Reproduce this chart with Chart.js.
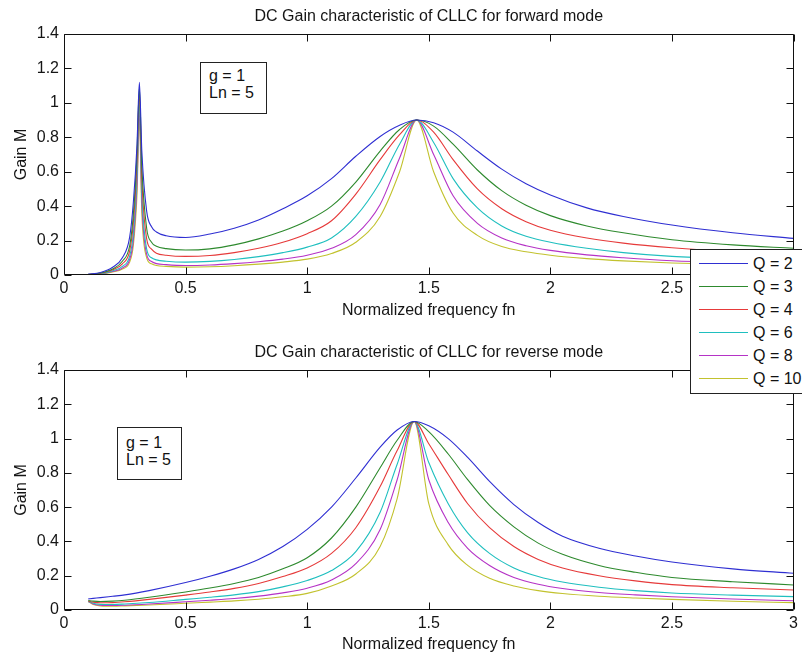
<!DOCTYPE html>
<html>
<head>
<meta charset="utf-8">
<script src="https://cdn.jsdelivr.net/npm/chart.js@4.4.1/dist/chart.umd.min.js"></script>
<style>
  html, body { margin: 0; padding: 0; background: #fff; overflow: hidden; width: 802px; height: 655px; }
  body { position: relative; font-family: "Liberation Sans", Arial, sans-serif; color: #111; }
  canvas { position: absolute; left: 0; }
  #fwdCanvas { top: 0; }
  #revCanvas { top: 325px; }
  .note { position: absolute; border: 1px solid #222; background: #fff; font-size: 16px; line-height: 17px;
          box-sizing: border-box; padding-left: 8px; z-index: 4; white-space: nowrap; }
  #noteFwd { left: 200px; top: 62px; width: 67px; height: 52px; padding-top: 4px; }
  #noteRev { left: 117px; top: 427px; width: 65px; height: 53px; padding-top: 6px; }
  #legend { position: absolute; left: 690px; top: 249px; width: 130px; height: 145px; border: 1px solid #222;
            background: #fff; box-sizing: border-box; padding-top: 2px; z-index: 5; }
  #legend .row { height: 23px; display: flex; align-items: center; font-size: 16px; white-space: nowrap; }
  #legend .sw { display: inline-block; width: 49px; height: 1px; margin-left: 8px; margin-right: 5px; }
</style>
</head>
<body>
<canvas id="fwdCanvas" width="802" height="325"></canvas>
<canvas id="revCanvas" width="802" height="330"></canvas>
<div class="note" id="noteFwd"></div>
<div class="note" id="noteRev"></div>
<div id="legend"></div>
<script>
// ---- series labels and colours ----
const qLabels = ['Q = 2', 'Q = 3', 'Q = 4', 'Q = 6', 'Q = 8', 'Q = 10'];
const seriesColors = ['#2f2fd2', '#2e8a2e', '#e63a3a', '#1fbfbf', '#b533c6', '#c2c22e'];

// ---- axis ticks ----
const xTicks = [0, 0.5, 1, 1.5, 2, 2.5, 3];
const xTickLabels = ['0', '0.5', '1', '1.5', '2', '2.5', '3'];
const yTicks = [0, 0.2, 0.4, 0.6, 0.8, 1, 1.2, 1.4];
const yTickLabels = ['0', '0.2', '0.4', '0.6', '0.8', '1', '1.2', '1.4'];

// ---- forward mode: normalized frequency and gain per Q ----
const fwdFreq = [0.10, 0.15, 0.20, 0.24, 0.27, 0.285, 0.30, 0.31, 0.32, 0.34,
                 0.36, 0.38, 0.42, 0.50, 0.60, 0.70, 0.80, 0.90, 1.00, 1.10,
                 1.20, 1.30, 1.38, 1.45, 1.52, 1.60, 1.70, 1.80, 1.90, 2.00,
                 2.15, 2.30, 2.50, 2.75, 3.00];
const fwdQ2  = [0.005, 0.015, 0.045, 0.10, 0.22, 0.42, 0.75, 1.12, 0.72, 0.37,
                0.28, 0.25, 0.228, 0.218, 0.238, 0.272, 0.32, 0.385, 0.46, 0.56,
                0.69, 0.805, 0.87, 0.90, 0.885, 0.83, 0.72, 0.615, 0.53, 0.465,
                0.39, 0.34, 0.29, 0.245, 0.213];
const fwdQ3  = [0.004, 0.012, 0.035, 0.08, 0.17, 0.35, 0.70, 1.09, 0.63, 0.27,
                0.19, 0.167, 0.153, 0.145, 0.152, 0.175, 0.21, 0.255, 0.315, 0.40,
                0.54, 0.72, 0.845, 0.90, 0.865, 0.76, 0.61, 0.49, 0.405, 0.345,
                0.285, 0.245, 0.205, 0.175, 0.155];
const fwdQ4  = [0.003, 0.010, 0.030, 0.065, 0.14, 0.30, 0.65, 1.06, 0.56, 0.21,
                0.15, 0.127, 0.115, 0.108, 0.113, 0.13, 0.155, 0.19, 0.24, 0.315,
                0.47, 0.67, 0.815, 0.90, 0.83, 0.67, 0.50, 0.385, 0.31, 0.26,
                0.215, 0.185, 0.158, 0.135, 0.12];
const fwdQ6  = [0.002, 0.008, 0.025, 0.05, 0.11, 0.24, 0.58, 1.00, 0.48, 0.15,
                0.10, 0.088, 0.08, 0.075, 0.079, 0.09, 0.107, 0.13, 0.162, 0.215,
                0.34, 0.54, 0.76, 0.90, 0.77, 0.56, 0.39, 0.285, 0.225, 0.19,
                0.155, 0.13, 0.108, 0.094, 0.085];
const fwdQ8  = [0.002, 0.007, 0.020, 0.04, 0.09, 0.20, 0.52, 0.95, 0.42, 0.12,
                0.078, 0.066, 0.06, 0.055, 0.058, 0.066, 0.077, 0.092, 0.115, 0.155,
                0.235, 0.41, 0.68, 0.90, 0.70, 0.46, 0.30, 0.215, 0.17, 0.143,
                0.117, 0.10, 0.083, 0.072, 0.065];
const fwdQ10 = [0.001, 0.006, 0.018, 0.035, 0.075, 0.17, 0.46, 0.90, 0.36, 0.10,
                0.065, 0.055, 0.05, 0.046, 0.048, 0.054, 0.063, 0.075, 0.092, 0.125,
                0.19, 0.34, 0.60, 0.90, 0.60, 0.36, 0.23, 0.165, 0.135, 0.115,
                0.095, 0.082, 0.07, 0.061, 0.055];

// ---- reverse mode: normalized frequency and gain per Q ----
const revFreq = [0.10, 0.12, 0.15, 0.20, 0.25, 0.35, 0.50, 0.60, 0.70, 0.80,
                 0.90, 1.00, 1.10, 1.20, 1.30, 1.37, 1.44, 1.50, 1.58, 1.66,
                 1.75, 1.85, 1.95, 2.05, 2.20, 2.35, 2.50, 2.75, 3.00];
const revQ2  = [0.065, 0.068, 0.072, 0.08, 0.088, 0.113, 0.16, 0.197, 0.24, 0.295,
                0.37, 0.47, 0.60, 0.77, 0.95, 1.05, 1.10, 1.075, 1.00, 0.89,
                0.75, 0.615, 0.51, 0.43, 0.36, 0.315, 0.28, 0.24, 0.214];
const revQ3  = [0.055, 0.052, 0.05, 0.052, 0.057, 0.074, 0.105, 0.128, 0.155, 0.19,
                0.24, 0.305, 0.42, 0.60, 0.83, 0.99, 1.10, 1.04, 0.91, 0.76,
                0.61, 0.485, 0.39, 0.325, 0.26, 0.22, 0.19, 0.165, 0.146];
const revQ4  = [0.052, 0.046, 0.042, 0.043, 0.048, 0.062, 0.087, 0.105, 0.126, 0.155,
                0.195, 0.245, 0.33, 0.48, 0.72, 0.93, 1.10, 0.97, 0.79, 0.62,
                0.48, 0.37, 0.295, 0.245, 0.20, 0.17, 0.148, 0.13, 0.117];
const revQ6  = [0.05, 0.039, 0.033, 0.032, 0.035, 0.044, 0.062, 0.074, 0.088, 0.107,
                0.135, 0.172, 0.23, 0.34, 0.57, 0.85, 1.10, 0.86, 0.62, 0.45,
                0.33, 0.245, 0.195, 0.163, 0.133, 0.113, 0.099, 0.087, 0.078];
const revQ8  = [0.05, 0.035, 0.028, 0.026, 0.028, 0.035, 0.048, 0.057, 0.067, 0.081,
                0.10, 0.127, 0.175, 0.27, 0.47, 0.76, 1.10, 0.76, 0.51, 0.36,
                0.26, 0.19, 0.15, 0.125, 0.102, 0.088, 0.077, 0.064, 0.054];
const revQ10 = [0.05, 0.032, 0.024, 0.022, 0.024, 0.029, 0.039, 0.046, 0.053, 0.063,
                0.077, 0.097, 0.14, 0.21, 0.37, 0.65, 1.10, 0.62, 0.38, 0.26,
                0.185, 0.14, 0.113, 0.096, 0.08, 0.07, 0.062, 0.051, 0.043];

const fwdSeries = [fwdQ2, fwdQ3, fwdQ4, fwdQ6, fwdQ8, fwdQ10];
const revSeries = [revQ2, revQ3, revQ4, revQ6, revQ8, revQ10];

const FONT = '"Liberation Sans", Arial, sans-serif';
const TEXT = '#151515';

// Axes box with inward tick marks on all four sides
const framePlugin = {
  id: 'frame',
  afterDatasetsDraw(chart) {
    const { ctx, chartArea: a, scales: { x, y } } = chart;
    const L = Math.round(a.left) + 0.5, R = Math.round(a.right) - 0.5;
    const T = Math.round(a.top) + 0.5, B = Math.round(a.bottom) - 0.5;
    const len = 7;
    ctx.save();
    ctx.strokeStyle = '#111';
    ctx.lineWidth = 1;
    ctx.beginPath();
    ctx.rect(L, T, R - L, B - T);
    xTicks.forEach(v => {
      const px = Math.round(x.getPixelForValue(v)) + 0.5;
      ctx.moveTo(px, B); ctx.lineTo(px, B - len);
      ctx.moveTo(px, T); ctx.lineTo(px, T + len);
    });
    yTicks.forEach(v => {
      const py = Math.round(y.getPixelForValue(v)) + 0.5;
      ctx.moveTo(L, py); ctx.lineTo(L + len, py);
      ctx.moveTo(R, py); ctx.lineTo(R - len, py);
    });
    ctx.stroke();
    ctx.restore();
  }
};

function makeChart(canvasId, freq, series, titleText, titleTop, titleBottom, axisHeight, xTitleBottom) {
  const datasets = series.map((vals, i) => ({
    label: qLabels[i],
    data: freq.map((f, k) => ({ x: f, y: vals[k] })),
    borderColor: seriesColors[i],
    backgroundColor: seriesColors[i],
    borderWidth: 1.1,
    pointRadius: 0,
    fill: false,
    cubicInterpolationMode: 'monotone'
  }));
  return new Chart(document.getElementById(canvasId), {
    type: 'line',
    data: { datasets },
    options: {
      responsive: false,
      animation: false,
      devicePixelRatio: 1,
      layout: { padding: { left: 0, right: 6, top: 0, bottom: 0 } },
      plugins: {
        legend: { display: false },
        tooltip: { enabled: false },
        title: {
          display: true, text: titleText, color: TEXT, fullSize: false,
          font: { family: FONT, size: 16, weight: 'normal' },
          padding: { top: titleTop, bottom: titleBottom }
        }
      },
      scales: {
        x: {
          type: 'linear', min: 0, max: 3,
          grid: { display: false, drawTicks: false }, border: { display: false },
          afterBuildTicks: s => { s.ticks = xTicks.map(v => ({ value: v })); },
          afterFit: s => { s.height = axisHeight; },
          ticks: {
            autoSkip: false, maxRotation: 0, padding: 4, color: TEXT,
            font: { family: FONT, size: 16 },
            callback: (v, i) => xTickLabels[i]
          },
          title: {
            display: true, text: 'Normalized frequency fn', color: TEXT,
            font: { family: FONT, size: 16 }, padding: { top: 0, bottom: xTitleBottom }
          }
        },
        y: {
          type: 'linear', min: 0, max: 1.4,
          grid: { display: false, drawTicks: false }, border: { display: false },
          afterBuildTicks: s => { s.ticks = yTicks.map(v => ({ value: v })); },
          afterFit: s => { s.width = 64; },
          ticks: {
            autoSkip: false, padding: 5, color: TEXT,
            font: { family: FONT, size: 16 },
            callback: (v, i) => yTickLabels[i]
          },
          title: {
            display: true, text: 'Gain M', color: TEXT,
            font: { family: FONT, size: 16 }, padding: { top: 12.4, bottom: 0 }
          }
        }
      }
    },
    plugins: [framePlugin]
  });
}

makeChart('fwdCanvas', fwdFreq, fwdSeries, 'DC Gain characteristic of CLLC for forward mode', 7.4, 7.4, 50, 4.4);
makeChart('revCanvas', revFreq, revSeries, 'DC Gain characteristic of CLLC for reverse mode', 18.4, 7.4, 45, 0.4);

// Parameter notes
const noteLines = ['g = 1', 'Ln = 5'];
['noteFwd', 'noteRev'].forEach(id => {
  const el = document.getElementById(id);
  noteLines.forEach(t => { const d = document.createElement('div'); d.textContent = t; el.appendChild(d); });
});

// Shared legend for both plots
const legend = document.getElementById('legend');
qLabels.forEach((lab, i) => {
  const row = document.createElement('div'); row.className = 'row';
  const sw = document.createElement('span'); sw.className = 'sw'; sw.style.background = seriesColors[i];
  const t = document.createElement('span'); t.textContent = lab;
  row.append(sw, t); legend.appendChild(row);
});
</script>
</body>
</html>
